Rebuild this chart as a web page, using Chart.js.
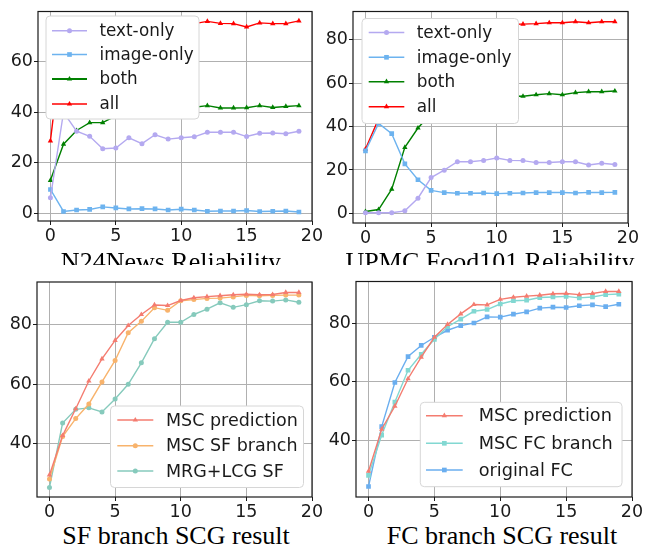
<!DOCTYPE html>
<html>
<head>
<meta charset="utf-8">
<script src="https://cdn.jsdelivr.net/npm/chart.js@4.4.0/dist/chart.umd.min.js"></script>
<style>
  body { margin: 0; background: #fff; }
  #wrap { position: relative; width: 652px; height: 548px; overflow: hidden; }
  canvas { position: absolute; }
  .toprow { position: absolute; left: 0; top: 0; width: 652px; height: 265px; overflow: hidden; }
  .ttl { position: absolute; font-family: "Liberation Serif", "Times New Roman", serif; font-size: 26px; line-height: 26px; white-space: nowrap; color: #000; transform: translateX(-50%); }
</style>
</head>
<body>
<div id="wrap">
  <div class="toprow">
    <canvas id="c1" width="326" height="250" style="left:0;top:0"></canvas>
    <canvas id="c2" width="326" height="250" style="left:326px;top:0"></canvas>
    <div class="ttl" style="left:171px;top:249px">N24News Reliability</div>
    <div class="ttl" style="left:490px;top:249px">UPMC Food101 Reliability</div>
  </div>
  <canvas id="c3" width="326" height="250" style="left:0;top:270px"></canvas>
  <canvas id="c4" width="326" height="250" style="left:326px;top:270px"></canvas>
  <div class="ttl" style="left:176px;top:523px">SF branch SCG result</div>
  <div class="ttl" style="left:502px;top:523px">FC branch SCG result</div>
</div>
<script>
// x axis: rounds 0..19
var steps = [0,1,2,3,4,5,6,7,8,9,10,11,12,13,14,15,16,17,18,19]
var xTicks = [0,5,10,15,20]

// N24News reliability
var n24Text  = [6.2,40,32.5,30.5,25.6,25.9,29.9,27.6,31.1,29.4,29.9,30.3,32.1,32.1,32.1,30.4,31.7,31.8,31.5,32.5]
var n24Image = [9.5,0.8,1.4,1.6,2.6,2.2,1.8,1.9,1.8,1.4,1.7,1.4,0.9,1.0,1.0,1.2,0.8,0.9,1.0,0.6]
var n24Both  = [13.1,27.4,32.8,35.9,35.9,38.6,39.5,40,40.5,41,41.5,42,42.6,41.7,41.7,41.8,42.6,41.9,42.3,42.6]
var n24All   = [28.7,72,73.5,74,74.5,74,75,74.5,75,75,75.5,75,75.9,75.1,75.0,73.7,75.3,75.0,75.0,76.1]
var n24YTicks = [0,20,40,60]

// UPMC Food101 reliability
var foodText  = [0.3,0.3,0.3,1.2,7.0,16.5,19.9,23.8,23.8,24.4,25.5,24.4,24.3,23.4,23.4,23.8,23.8,22.3,23.1,22.5]
var foodImage = [28.8,41.4,36.7,22.8,15.5,10.6,9.6,9.3,9.3,9.4,9.1,9.3,9.4,9.6,9.6,9.6,9.4,9.7,9.6,9.7]
var foodBoth  = [0.9,1.8,11.2,30.4,39.3,46,50,52,53,53.5,53.5,54,53.9,54.6,55.1,54.6,55.6,56.0,56.0,56.3]
var foodAll   = [29.6,43.5,60,75,82,85,86,86.5,86.5,87,87,87,87.1,87.3,87.7,87.7,88.2,87.7,88.2,88.2]
var foodYTicks = [0,20,40,60,80]

// SF branch SCG result
var sfMsc     = [29.6,42.8,51.8,61.1,68.5,74.7,79.7,83.4,86.6,86.4,88.1,89.0,89.4,89.7,90.0,90.2,90.0,90.1,90.8,90.8]
var sfBranch  = [28.2,42.5,48.5,53.4,60.8,68.0,77.3,81.1,85.7,84.8,88.0,88.4,88.8,88.9,89.3,89.8,89.7,89.8,89.9,89.9]
var sfMrg     = [25.4,47.0,51.6,52.1,50.7,55.1,60.0,67.2,75.3,80.8,80.8,83.4,85.2,87.3,85.8,86.7,88.0,87.9,88.3,87.5]

// FC branch SCG result
var fcMsc      = [29.4,43.8,51.7,61.1,68.5,75.3,79.7,83.3,86.5,86.4,88.3,89.0,89.4,89.7,90.2,90.3,89.9,90.3,91.0,91.0]
var fcBranch   = [28.0,41.8,53.1,64.0,69.5,74.6,78.9,81.5,84.2,84.8,86.7,87.8,88.0,88.9,89.1,89.3,88.8,89.1,89.9,90.1]
var fcOriginal = [24.2,44.7,59.8,68.7,72.5,75.3,77.7,79.3,80.2,82.3,82.2,83.2,84.0,85.3,85.6,85.5,86.1,86.4,85.8,86.6]
var scgYTicks = [40,60,80]

const tickFont = { family: 'DejaVu Sans', size: 17.5 }

function pts(arr){
  return arr.map((v, i) => ({ x: steps[i], y: v }))
}

function line(label, arr, color, shape, radius, width){
  return {
    label: label,
    data: pts(arr),
    borderColor: color,
    backgroundColor: color,
    pointStyle: shape,
    pointRadius: radius,
    pointHoverRadius: radius,
    borderWidth: width || 1.4,
    pointBorderWidth: 0,
    tension: 0
  }
}

// axes frame like matplotlib
const framePlugin = {
  id: 'frame',
  afterDatasetsDraw(chart){
    const a = chart.chartArea, ctx = chart.ctx
    ctx.save()
    ctx.strokeStyle = '#1a1a1a'
    ctx.lineWidth = 1.2
    ctx.strokeRect(a.left, a.top, a.right - a.left, a.bottom - a.top)
    ctx.restore()
  }
}

// legend box drawn inside the plot
const boxLegend = {
  id: 'boxLegend',
  afterDatasetsDraw(chart, args, o){
    const ctx = chart.ctx
    ctx.save()
    ctx.beginPath()
    ctx.roundRect(o.x, o.y, o.w, o.h, 4)
    ctx.fillStyle = '#fff'
    ctx.fill()
    ctx.strokeStyle = '#d6d6d6'
    ctx.lineWidth = 1
    ctx.stroke()
    ctx.font = o.size + 'px "DejaVu Sans"'
    ctx.textBaseline = 'middle'
    chart.data.datasets.forEach((ds, i) => {
      const y = o.rows[i]
      ctx.strokeStyle = ds.borderColor
      ctx.lineWidth = (o.widths && o.widths[i]) || ds.borderWidth
      ctx.beginPath()
      ctx.moveTo(o.h0, y)
      ctx.lineTo(o.h1, y)
      ctx.stroke()
      ctx.fillStyle = ds.backgroundColor
      Chart.helpers.drawPoint(ctx, { pointStyle: ds.pointStyle, radius: ds.pointRadius, borderWidth: 0, rotation: 0 }, (o.h0 + o.h1) / 2, y)
      ctx.fillStyle = '#1a1a1a'
      ctx.fillText(ds.label, o.tx, y + 1)
    })
    ctx.restore()
  }
}

function makeChart(id, datasets, cfg){
  const ctx = document.getElementById(id).getContext('2d')
  return new Chart(ctx, {
    type: 'line',
    data: { datasets: datasets },
    options: {
      responsive: false,
      animation: false,
      events: [],
      layout: { padding: cfg.pad },
      plugins: {
        legend: { display: false },
        tooltip: { enabled: false },
        boxLegend: cfg.legend
      },
      scales: {
        x: {
          type: 'linear',
          min: -0.95, max: 20,
          afterBuildTicks: s => { s.ticks = xTicks.map(v => ({ value: v })) },
          afterFit: s => { s.height = cfg.xh },
          ticks: { font: tickFont, color: '#1a1a1a', padding: 1, maxRotation: 0 },
          grid: { color: '#b0b0b0', lineWidth: 1, tickLength: 4, tickColor: '#1a1a1a' },
          border: { display: false }
        },
        y: {
          min: cfg.ymin, max: cfg.ymax,
          afterBuildTicks: s => { s.ticks = cfg.yticks.map(v => ({ value: v })) },
          afterFit: s => { s.width = cfg.yw },
          ticks: { font: tickFont, color: '#1a1a1a', padding: 1 },
          grid: { color: '#b0b0b0', lineWidth: 1, tickLength: 4, tickColor: '#1a1a1a' },
          border: { display: false }
        }
      }
    },
    plugins: [framePlugin, boxLegend]
  })
}

const lav = '#b4a9f0', sky = '#6db3ef'

makeChart('c1', [
  line('text-only', n24Text, lav, 'circle', 2.5),
  line('image-only', n24Image, sky, 'rect', 3.3),
  line('both', n24Both, '#008000', 'triangle', 3.1),
  line('all', n24All, '#ff0000', 'triangle', 3.1)
], {
  pad: { left: 0, right: 14, top: 8, bottom: 0 }, xh: 29, yw: 38,
  ymin: -2.96, ymax: 79.8, yticks: n24YTicks,
  legend: { x: 46, y: 16, w: 153, h: 103, rows: [30.7, 54.5, 79, 104], h0: 52, h1: 87, tx: 99.5, size: 16.8, widths: [1.5, 1.5, 2.2, 1.5] }
})

makeChart('c2', [
  line('text-only', foodText, lav, 'circle', 2.5),
  line('image-only', foodImage, sky, 'rect', 3.3),
  line('both', foodBoth, '#008000', 'triangle', 3.1),
  line('all', foodAll, '#ff0000', 'triangle', 3.1)
], {
  pad: { left: 0, right: 24, top: 9, bottom: 0 }, xh: 27, yw: 27,
  ymin: -4.4, ymax: 92.9, yticks: foodYTicks,
  legend: { x: 36, y: 18.5, w: 156.5, h: 105, rows: [32.5, 57.3, 81.7, 106.7], h0: 42.7, h1: 78.3, tx: 90.7, size: 16.9, widths: [1.5, 1.5, 1.5, 1.5] }
})

makeChart('c3', [
  line('MSC prediction', sfMsc, '#f47c70', 'triangle', 3.1),
  line('MSC SF branch', sfBranch, '#f8b36c', 'circle', 2.5),
  line('MRG+LCG SF', sfMrg, '#86cabc', 'circle', 2.5)
], {
  pad: { left: 0, right: 14, top: 12, bottom: 0 }, xh: 23, yw: 37,
  ymin: 22.2, ymax: 94.3, yticks: scgYTicks,
  legend: { x: 110.5, y: 136, w: 193, h: 81.5, rows: [150, 175.7, 201], h0: 117.3, h1: 153.3, tx: 166, size: 17.5 }
})

makeChart('c4', [
  line('MSC prediction', fcMsc, '#f47c70', 'triangle', 3.1),
  line('MSC FC branch', fcBranch, '#82d8d2', 'rect', 3.3),
  line('original FC', fcOriginal, '#6aaeef', 'rect', 3.3)
], {
  pad: { left: 0, right: 20, top: 10, bottom: 0 }, xh: 23, yw: 30,
  ymin: 20.6, ymax: 94.4, yticks: scgYTicks,
  legend: { x: 94.3, y: 132.3, w: 201.7, h: 84.4, rows: [145.7, 173.3, 200], h0: 100, h1: 136.7, tx: 152.7, size: 17.7 }
})
</script>
</body>
</html>
